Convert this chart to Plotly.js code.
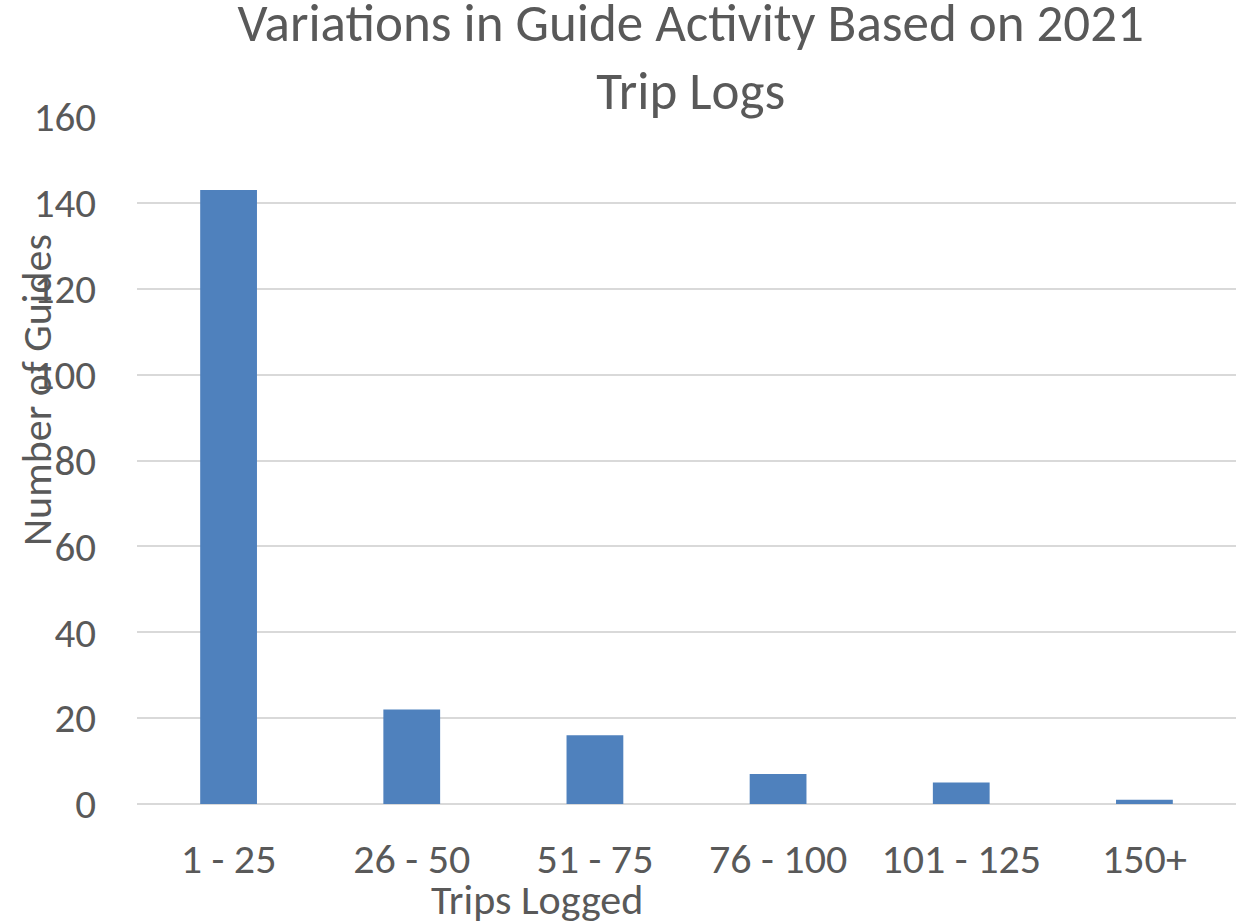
<!DOCTYPE html>
<html><head><meta charset="utf-8">
<script src="https://cdn.plot.ly/plotly-3.0.1.min.js"></script>
<style>body{margin:0;padding:0;background:#fff}#chart{width:1240px;height:921px}</style>
</head><body><div id="chart"></div>
<script>
const categories = ["1 - 25", "26 - 50", "51 - 75", "76 - 100", "101 - 125", "150+"];
const guides = [143, 22, 16, 7, 5, 1];
const yTicks = [0, 20, 40, 60, 80, 100, 120, 140, 160];

const font = "Carlito, 'Open Sans', 'Liberation Sans', sans-serif";
const grey = "#595959";

Plotly.newPlot("chart", [{
  type: "bar",
  x: categories,
  y: guides,
  marker: {color: "#4f81bd"},
  hoverinfo: "x+y"
}], {
  width: 1240, height: 921,
  margin: {l: 137, r: 4, t: 117, b: 117},
  paper_bgcolor: "#fff", plot_bgcolor: "#fff",
  bargap: 0.69,
  showlegend: false,
  title: {text: "Variations in Guide Activity Based on 2021<br>Trip Logs", x: 0.557, xanchor: "center", y: 0.956, yanchor: "top",
          font: {family: font, size: 53, color: grey}},
  xaxis: {tickfont: {family: font, size: 42, color: grey}, showline: false, ticks: "", showgrid: false, ticklabelstandoff: 26},
  yaxis: {range: [0, 160], tickvals: yTicks, tickfont: {family: font, size: 41, color: grey},
          gridcolor: "#d9d9d9", gridwidth: 2, zeroline: true, zerolinecolor: "#d9d9d9", zerolinewidth: 2,
          ticks: "", ticklabelstandoff: 40},
  annotations: [
    {text: "Trips Logged", xref: "paper", yref: "paper", x: (537-137)/1099, y: 0, yanchor: "middle", xanchor: "center",
     showarrow: false, font: {family: font, size: 42, color: grey}, yshift: -95},
    {text: "Number of Guides", xref: "paper", yref: "paper", x: 0, xshift: -101, y: (804-390)/687, textangle: -90,
     xanchor: "center", yanchor: "middle", showarrow: false, font: {family: font, size: 42, color: grey}}
  ]
}, {displayModeBar: false});
</script></body></html>
